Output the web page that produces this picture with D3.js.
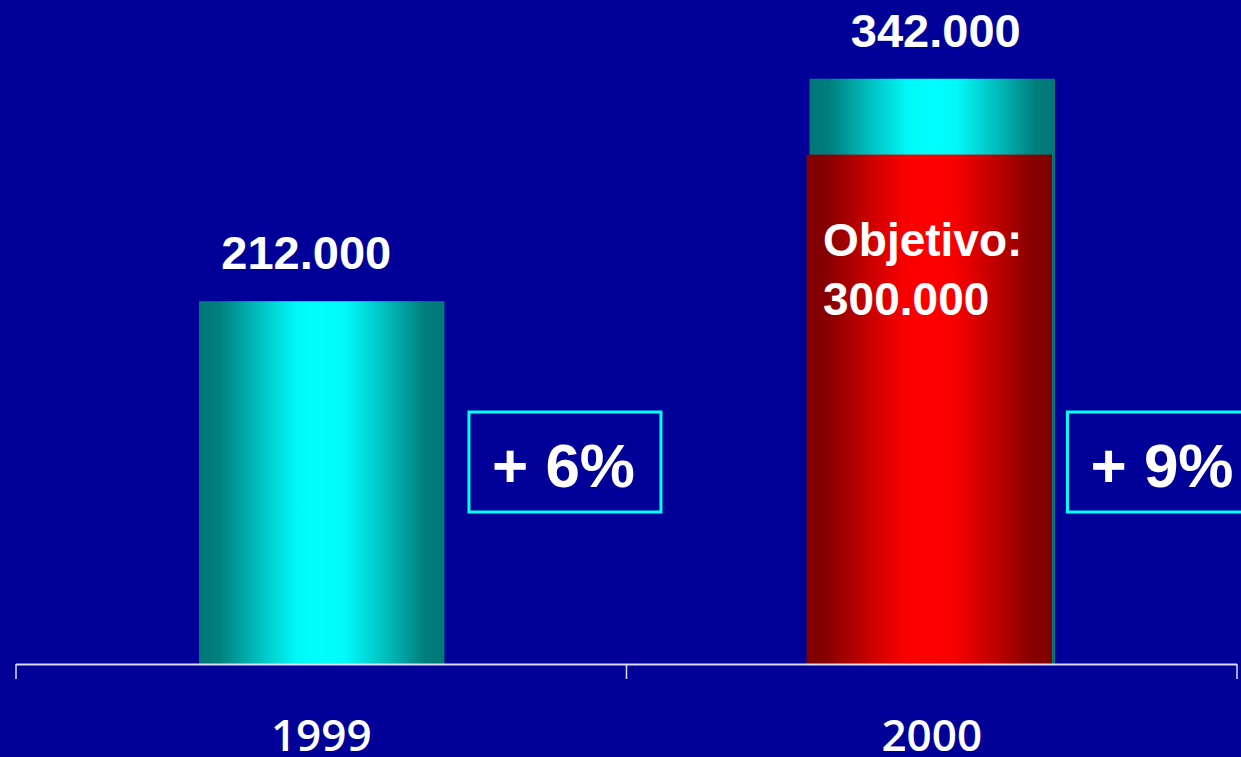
<!DOCTYPE html>
<html>
<head>
<meta charset="utf-8">
<script src="https://cdn.jsdelivr.net/npm/d3@7"></script>
<style>
  html, body { margin: 0; padding: 0; background: #000099; overflow: hidden; }
  svg { display: block; }
</style>
</head>
<body>
<svg id="chart" width="1241" height="757"></svg>
<script>
// ---- data ----
const categories = ["1999", "2000"];
const actualValues = [212000, 342000];
const actualLabels = ["212.000", "342.000"];
const targetCategory = "2000";
const targetValue = 300000;
const targetLabelLines = ["Objetivo:", "300.000"];
const growthLabels = ["+ 6%", "+ 9%"];

// ---- layout ----
const W = 1241, H = 757;
const axisY = 664;
const svg = d3.select("#chart");

const x = d3.scaleBand().domain(categories).range([16, 1237]).paddingInner(0).paddingOuter(0);
const y = d3.scaleLinear().domain([0, 388000]).range([axisY, 0]);
const barW = x.bandwidth() * 0.402;

const defs = svg.append("defs");
function hGrad(id, edge, mid) {
  const g = defs.append("linearGradient").attr("id", id).attr("x1", "0%").attr("x2", "100%").attr("y1", "0%").attr("y2", "0%");
  const stops = [[0, 0], [0.08, 0.05], [0.25, 0.55], [0.4, 0.95], [0.5, 1], [0.6, 0.95], [0.75, 0.55], [0.92, 0.05], [1, 0]];
  stops.forEach(s => {
    g.append("stop").attr("offset", s[0]).attr("stop-color", d3.interpolateRgb(edge, mid)(s[1]));
  });
}
hGrad("gCyan", "#007777", "#00ffff");
hGrad("gRed", "#800000", "#ff0000");

svg.append("rect").attr("width", W).attr("height", H).attr("fill", "#000099");

const barCx = c => x(c) + x.bandwidth() / 2;

// actual bars
svg.selectAll("rect.actual").data(categories).enter().append("rect")
  .attr("class", "actual")
  .attr("x", c => barCx(c) - barW / 2 + 0.5)
  .attr("y", (c, i) => y(actualValues[i]))
  .attr("width", barW)
  .attr("height", (c, i) => axisY - y(actualValues[i]))
  .attr("fill", "url(#gCyan)");

// target bar
svg.append("rect")
  .attr("x", barCx(targetCategory) - barW / 2 - 2.5)
  .attr("y", y(targetValue) + 4)
  .attr("width", barW)
  .attr("height", axisY - y(targetValue) - 4)
  .attr("fill", "url(#gRed)");

// value labels
const labelDx = [-15, 4];
svg.selectAll("text.val").data(categories).enter().append("text")
  .attr("class", "val")
  .attr("x", (c, i) => barCx(c) + labelDx[i])
  .attr("y", (c, i) => y(actualValues[i]) - 32)
  .attr("text-anchor", "middle")
  .attr("fill", "#ffffff")
  .attr("font-family", "Liberation Sans, Arial, sans-serif")
  .attr("font-weight", "bold")
  .attr("font-size", 47)
  .text((c, i) => actualLabels[i]);

// target label
const tl = svg.append("text")
  .attr("fill", "#ffffff")
  .attr("font-family", "Liberation Sans, Arial, sans-serif")
  .attr("font-weight", "bold")
  .attr("font-size", 46);
targetLabelLines.forEach((t, i) => {
  tl.append("tspan")
    .attr("x", barCx(targetCategory) - barW / 2 + 14)
    .attr("y", 256 + i * 59)
    .text(t);
});

// growth boxes
const boxW = 192, boxH = 100;
const boxLeft = [x(categories[0]) + x.bandwidth() / 2 + barW / 2 + 25, x(categories[1]) + x.bandwidth() / 2 + barW / 2 + 13];
const gb = svg.selectAll("g.growth").data(categories).enter().append("g")
  .attr("class", "growth")
  .attr("transform", (c, i) => `translate(${boxLeft[i]},412)`);
gb.append("rect")
  .attr("x", 0).attr("y", 0).attr("width", boxW).attr("height", boxH)
  .attr("fill", "none").attr("stroke", "#00ffff").attr("stroke-width", 3);
gb.append("text")
  .attr("x", 23).attr("y", 75)
  .attr("fill", "#ffffff")
  .attr("font-family", "Liberation Sans, Arial, sans-serif")
  .attr("font-weight", "bold")
  .attr("font-size", 62)
  .text((c, i) => growthLabels[i]);

// axis
const axisG = svg.append("g").attr("transform", `translate(0,${axisY})`);
axisG.append("line").attr("x1", 16).attr("x2", 1237).attr("y1", 0.5).attr("y2", 0.5)
  .attr("stroke", "#dcdcf0").attr("stroke-width", 2);
const tickXs = categories.map(c => x(c)).concat([x(categories[categories.length - 1]) + x.bandwidth()]);
axisG.selectAll("line.tick").data(tickXs).enter().append("line")
  .attr("class", "tick")
  .attr("x1", d => Math.min(d, 1237)).attr("x2", d => Math.min(d, 1237))
  .attr("y1", 0).attr("y2", 15)
  .attr("stroke", "#dcdcf0").attr("stroke-width", 1.5);
axisG.selectAll("text.cat").data(categories).enter().append("text")
  .attr("class", "cat")
  .attr("x", c => barCx(c))
  .attr("y", 87)
  .attr("text-anchor", "middle")
  .attr("fill", "#ffffff")
  .attr("font-family", "Open Sans, Noto Sans, sans-serif")
  .attr("font-weight", 600)
  .attr("font-size", 44)
  .text(c => c);
</script>
</body>
</html>
